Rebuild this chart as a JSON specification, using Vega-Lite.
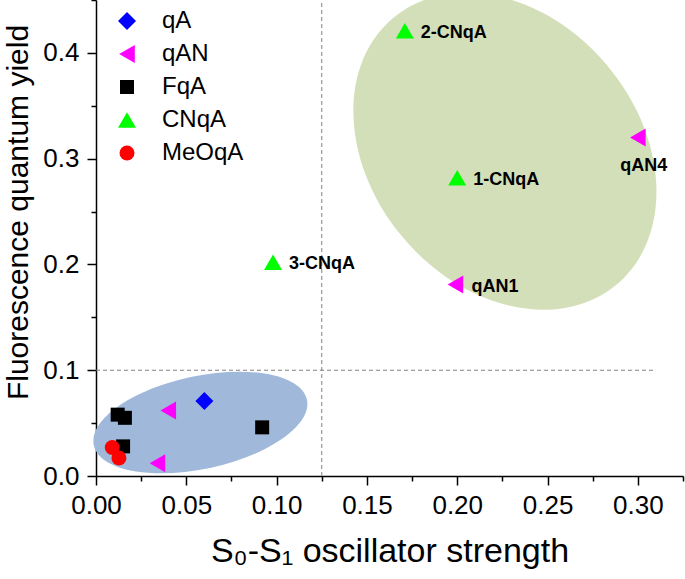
{
  "$schema": "https://vega.github.io/schema/vega-lite/v6.json",
  "width": 587,
  "height": 476,
  "autosize": {"type": "none"},
  "padding": {"left": 96, "top": 0, "right": 2, "bottom": 103},
  "datasets": {
    "points": [
      {"series": "qA", "x": 0.060, "y": 0.071},
      {"series": "qAN", "x": 0.040, "y": 0.062},
      {"series": "qAN", "x": 0.034, "y": 0.012},
      {"series": "qAN", "x": 0.300, "y": 0.320, "label": "qAN4"},
      {"series": "qAN", "x": 0.199, "y": 0.181, "label": "qAN1"},
      {"series": "FqA", "x": 0.012, "y": 0.058},
      {"series": "FqA", "x": 0.016, "y": 0.055},
      {"series": "FqA", "x": 0.015, "y": 0.028},
      {"series": "FqA", "x": 0.092, "y": 0.046},
      {"series": "CNqA", "x": 0.171, "y": 0.421, "label": "2-CNqA"},
      {"series": "CNqA", "x": 0.200, "y": 0.282, "label": "1-CNqA"},
      {"series": "CNqA", "x": 0.098, "y": 0.202, "label": "3-CNqA"},
      {"series": "MeOqA", "x": 0.009, "y": 0.027},
      {"series": "MeOqA", "x": 0.0127, "y": 0.017}
    ],
    "regions": [
      {"group": "low", "x": 0.0578, "y": 0.0506},
      {"group": "high", "x": 0.2264, "y": 0.307}
    ],
    "vguide": [{"x": 0.125, "y": 0, "y2": 0.45}],
    "hguide": [{"x": 0, "x2": 0.31, "y": 0.1}]
  },
  "encoding": {
    "x": {
      "field": "x", "type": "quantitative",
      "scale": {"domain": [0, 0.325], "nice": false, "zero": false},
      "axis": {
        "values": [0, 0.025, 0.05, 0.075, 0.1, 0.125, 0.15, 0.175, 0.2, 0.225, 0.25, 0.275, 0.3, 0.325],
        "labelExpr": "round(datum.value*1000) % 50 === 0 ? format(datum.value, '.2f') : ''",
        "tickSize": {"condition": {"test": "round(datum.value*1000) % 50 === 0", "value": 9}, "value": 5},
        "labelPadding": 7,
        "labelFlush": false,
        "labelOverlap": false,
        "title": "S₀-S₁ oscillator strength",
        "titleFontSize": 34,
        "titleY": 85,
        "titleBaseline": "alphabetic"
      }
    },
    "y": {
      "field": "y", "type": "quantitative",
      "scale": {"domain": [0, 0.45], "nice": false, "zero": false},
      "axis": {
        "values": [0, 0.05, 0.1, 0.15, 0.2, 0.25, 0.3, 0.35, 0.4, 0.45],
        "labelExpr": "round(datum.value*100) % 10 === 0 ? format(datum.value, '.1f') : ''",
        "tickSize": {"condition": {"test": "round(datum.value*100) % 10 === 0", "value": 9}, "value": 5},
        "labelPadding": 8,
        "labelFlush": false,
        "labelOverlap": false,
        "title": "Fluorescence quantum yield",
        "titleFontSize": 30,
        "titleX": -63,
        "titleY": 212
      }
    }
  },
  "layer": [
    {
      "data": {"name": "regions"},
      "transform": [{"filter": "datum.group === 'low'"}],
      "mark": {
        "type": "point", "filled": true, "opacity": 1, "strokeWidth": 0,
        "color": "#A0B9DA", "size": 47500, "angle": -12,
        "shape": "M1,0C1,0.2353 0.5523,0.426 0,0.426C-0.5523,0.426 -1,0.2353 -1,0C-1,-0.2353 -0.5523,-0.426 0,-0.426C0.5523,-0.426 1,-0.2353 1,0Z"
      }
    },
    {
      "data": {"name": "regions"},
      "transform": [{"filter": "datum.group === 'high'"}],
      "mark": {
        "type": "point", "filled": true, "opacity": 1, "strokeWidth": 0,
        "color": "#D3DFB9", "size": 121000, "angle": 50,
        "shape": "M1,0C1,0.4242 0.5523,0.768 0,0.768C-0.5523,0.768 -1,0.4242 -1,0C-1,-0.4242 -0.5523,-0.768 0,-0.768C0.5523,-0.768 1,-0.4242 1,0Z"
      }
    },
    {
      "data": {"name": "vguide"},
      "mark": {"type": "rule", "color": "#808080", "strokeWidth": 1, "strokeDash": [4, 3]},
      "encoding": {"y2": {"field": "y2"}}
    },
    {
      "data": {"name": "hguide"},
      "mark": {"type": "rule", "color": "#808080", "strokeWidth": 1, "strokeDash": [4, 3]},
      "encoding": {"x2": {"field": "x2"}}
    },
    {
      "data": {"name": "points"},
      "mark": {"type": "point", "filled": true, "opacity": 1, "strokeWidth": 0},
      "encoding": {
        "color": {
          "field": "series", "type": "nominal",
          "scale": {"domain": ["qA", "qAN", "FqA", "CNqA", "MeOqA"], "range": ["#0000FF", "#FF00FF", "#000000", "#00FF00", "#FF0000"]},
          "legend": {"title": null}
        },
        "shape": {
          "field": "series", "type": "nominal",
          "scale": {"domain": ["qA", "qAN", "FqA", "CNqA", "MeOqA"], "range": ["diamond", "triangle-left", "square", "triangle-up", "circle"]},
          "legend": {"title": null}
        },
        "size": {
          "field": "series", "type": "nominal",
          "scale": {"type": "ordinal", "domain": ["qA", "qAN", "FqA", "CNqA", "MeOqA"], "range": [324, 324, 196, 324, 225]},
          "legend": {"title": null}
        }
      }
    },
    {
      "data": {"name": "points"},
      "transform": [{"filter": "datum.label != null && datum.label !== 'qAN4'"}],
      "mark": {"type": "text", "font": "Liberation Sans", "fontWeight": "bold", "fontSize": 18, "align": "left", "baseline": "middle", "dx": 16, "dy": 2, "color": "#000000"},
      "encoding": {"text": {"field": "label"}}
    },
    {
      "data": {"name": "points"},
      "transform": [{"filter": "datum.label === 'qAN4'"}],
      "mark": {"type": "text", "font": "Liberation Sans", "fontWeight": "bold", "fontSize": 18, "align": "center", "baseline": "middle", "dx": 6, "dy": 28, "color": "#000000"},
      "encoding": {"text": {"field": "label"}}
    }
  ],
  "config": {
    "view": {"stroke": null},
    "axis": {
      "grid": false,
      "domainColor": "#000000",
      "domainWidth": 1.5,
      "tickColor": "#000000",
      "tickWidth": 1.5,
      "labelFont": "Liberation Sans",
      "labelFontSize": 26,
      "labelColor": "#000000",
      "titleFont": "Liberation Sans",
      "titleFontWeight": "normal",
      "titleColor": "#000000"
    },
    "legend": {
      "orient": "none",
      "legendX": 19,
      "legendY": 9,
      "padding": 0,
      "labelFont": "Liberation Sans",
      "labelFontSize": 24,
      "labelColor": "#000000",
      "labelOffset": 23,
      "rowPadding": 9,
      "symbolStrokeWidth": 0,
      "symbolOpacity": 1
    }
  }
}
